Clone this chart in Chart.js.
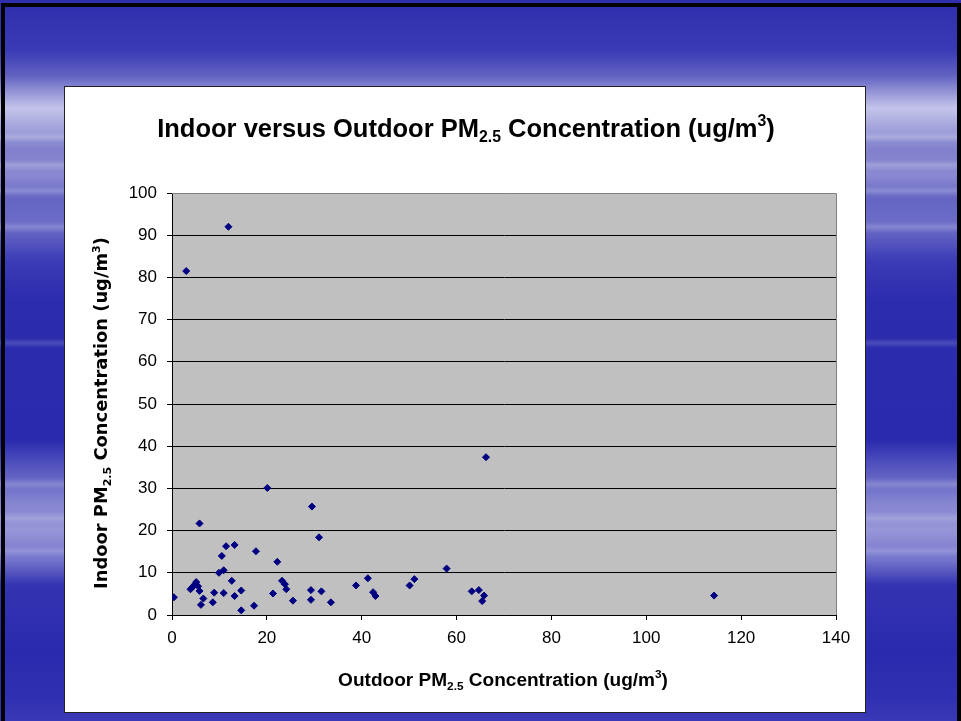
<!DOCTYPE html>
<html>
<head>
<meta charset="utf-8">
<script src="https://cdn.jsdelivr.net/npm/chart.js@4.4.1/dist/chart.umd.min.js"></script>
<style>
  html, body {
    margin: 0;
    padding: 0;
    width: 961px;
    height: 721px;
    overflow: hidden;
    background: #ffffff;
  }
  #slide {
    position: absolute;
    left: 0;
    top: 0;
    width: 961px;
    height: 721px;
    background:
      linear-gradient(to bottom,
        rgba(255,255,255,0) 132px, rgba(255,255,255,0.22) 137px, rgba(255,255,255,0) 142px,
        rgba(255,255,255,0) 160px, rgba(255,255,255,0.2) 165px, rgba(255,255,255,0) 171px,
        rgba(255,255,255,0) 186px, rgba(255,255,255,0.18) 191px, rgba(255,255,255,0) 196px,
        rgba(255,255,255,0) 222px, rgba(255,255,255,0.18) 227px, rgba(255,255,255,0) 233px,
        rgba(255,255,255,0) 338px, rgba(255,255,255,0.15) 343px, rgba(255,255,255,0) 348px,
        rgba(255,255,255,0) 478px, rgba(255,255,255,0.18) 484px, rgba(255,255,255,0) 490px,
        rgba(255,255,255,0) 512px, rgba(255,255,255,0.16) 518px, rgba(255,255,255,0) 524px,
        rgba(255,255,255,0) 546px, rgba(255,255,255,0.16) 551px, rgba(255,255,255,0) 557px),
      linear-gradient(to bottom,
      #2f2fae 0px, #3a3ab5 50px, #6060c2 75px, #9494d6 92px, #c4c4ea 108px,
      #a8a8de 125px, #8080cc 150px, #8a8ad2 175px, #6464c4 200px, #6e6ec8 225px,
      #3c3cb6 260px, #2c2cae 300px, #2a2aae 440px, #5252be 465px, #8282d0 500px,
      #9696d8 530px, #7474cc 560px, #3434b2 585px, #2a2aae 650px, #3030b2 700px,
      #3a3ab8 721px);
  }
  #frame {
    position: absolute;
    left: 1px;
    top: 3px;
    width: 952px;
    height: 730px;
    border-left: 4px solid #000;
    border-top: 4px solid #000;
    border-right: 4px solid #000;
  }
  #box {
    position: absolute;
    left: 64px;
    top: 86px;
    width: 802px;
    height: 627px;
    box-sizing: border-box;
    border: 1px solid #222;
    background: #ffffff;
  }
  #chart {
    position: absolute;
    left: 0;
    top: 0;
  }
</style>
</head>
<body>
<div id="slide"></div>
<div id="frame"></div>
<div id="box"></div>
<canvas id="chart" width="961" height="721"></canvas>
<script>
// outdoor (x) and indoor (y) PM2.5, ug/m3
const outdoorPM = [
  0.4, 3.0, 11.9, 3.9, 4.3, 4.7, 5.1, 5.5, 5.8, 5.8,
  6.1, 6.6, 8.6, 8.9, 9.9, 10.5, 10.9, 10.9, 11.4, 12.6,
  13.2, 13.2, 14.6, 14.6, 17.3, 17.7, 20.1, 21.3, 22.2, 23.2,
  23.8, 24.1, 25.5, 29.3, 29.3, 29.5, 31.0, 31.5, 33.5, 38.8,
  41.3, 42.4, 42.9, 50.1, 51.1, 57.9, 63.2, 64.7, 65.8, 65.4,
  66.2, 114.3
];
const indoorPM = [
  4.2, 81.5, 92.0, 6.1, 6.6, 7.1, 7.8, 6.8, 5.7, 21.7,
  2.4, 3.9, 3.0, 5.3, 10.0, 14.0, 10.6, 5.2, 16.3, 8.1,
  4.5, 16.6, 5.8, 1.1, 2.2, 15.1, 30.1, 5.1, 12.6, 8.1,
  7.3, 6.1, 3.4, 5.9, 3.6, 25.7, 18.4, 5.6, 3.0, 7.0,
  8.7, 5.4, 4.5, 7.0, 8.5, 11.0, 5.6, 5.9, 4.6, 3.3,
  37.4, 4.6
];

const xRange = [0, 140];
const xStep = 20;
const yRange = [0, 100];
const yStep = 10;

const titleParts = [
  { text: "Indoor versus Outdoor PM" },
  { text: "2.5", sub: true },
  { text: " Concentration (ug/m" },
  { text: "3", sup: true },
  { text: ")" },
];
const xTitleParts = [
  { text: "Outdoor PM" },
  { text: "2.5", sub: true },
  { text: " Concentration (ug/m" },
  { text: "3", sup: true },
  { text: ")" },
];
const yTitleParts = [
  { text: "Indoor PM" },
  { text: "2.5", sub: true },
  { text: " Concentration (ug/m" },
  { text: "3", sup: true },
  { text: ")" },
];

const FONT = '"Liberation Sans", Arial, sans-serif';
const WIDE_FONT = '"DejaVu Sans", Verdana, sans-serif';

function partSize(p, size) {
  return p.sub || p.sup ? size * 0.62 : size;
}

function richWidth(ctx, parts, size, family) {
  let w = 0;
  parts.forEach((p) => {
    ctx.font = `bold ${partSize(p, size)}px ${family}`;
    w += ctx.measureText(p.text).width;
  });
  return w;
}

// draws mixed text (sub/superscripts), scaled to fit a given width
function drawRich(ctx, parts, targetWidth, cx, cy, angle, family) {
  const size = (20 * targetWidth) / richWidth(ctx, parts, 20, family);
  const total = richWidth(ctx, parts, size, family);
  ctx.save();
  ctx.translate(cx, cy);
  ctx.rotate(angle);
  ctx.fillStyle = "#000";
  ctx.textAlign = "left";
  ctx.textBaseline = "alphabetic";
  let x = -total / 2;
  const baseY = size * 0.36;
  parts.forEach((p) => {
    ctx.font = `bold ${partSize(p, size)}px ${family}`;
    const dy = p.sub ? size * 0.2 : p.sup ? -size * 0.42 : 0;
    ctx.fillText(p.text, x, baseY + dy);
    x += ctx.measureText(p.text).width;
  });
  ctx.restore();
}

const plotDecor = {
  id: "plotDecor",
  beforeDraw(chart) {
    const { ctx, chartArea: a } = chart;
    ctx.save();
    ctx.fillStyle = "#c0c0c0";
    ctx.fillRect(a.left, a.top, a.right - a.left, a.bottom - a.top);
    ctx.restore();
  },
  afterDraw(chart) {
    const { ctx, chartArea: a } = chart;
    ctx.save();
    ctx.strokeStyle = "#808080";
    ctx.lineWidth = 1;
    ctx.beginPath();
    ctx.moveTo(a.left, a.top + 0.5);
    ctx.lineTo(a.right + 0.5, a.top + 0.5);
    ctx.lineTo(a.right + 0.5, a.bottom);
    ctx.stroke();
    ctx.restore();

    drawRich(ctx, titleParts, 618, 466, 128, 0, FONT);
    drawRich(ctx, xTitleParts, 330, 503, 679, 0, FONT);
    drawRich(ctx, yTitleParts, 352, 101, 413, -Math.PI / 2, WIDE_FONT);
  },
};

const points = outdoorPM.map((x, i) => ({ x: x, y: indoorPM[i] }));

new Chart(document.getElementById("chart"), {
  type: "scatter",
  data: {
    datasets: [
      {
        data: points,
        pointStyle: "rectRot",
        pointRadius: 3.5,
        pointBorderWidth: 1,
        backgroundColor: "#000080",
        borderColor: "#000080",
      },
    ],
  },
  options: {
    responsive: false,
    animation: false,
    layout: {
      padding: { left: 112, top: 193, right: 125, bottom: 56 },
    },
    plugins: {
      legend: { display: false },
      tooltip: { enabled: false },
    },
    scales: {
      x: {
        type: "linear",
        min: xRange[0],
        max: xRange[1],
        afterFit(scale) {
          scale.height = 50;
        },
        ticks: {
          stepSize: xStep,
          color: "#000",
          padding: 8,
          maxRotation: 0,
          font: { family: FONT, size: 17 },
        },
        grid: {
          drawOnChartArea: false,
          drawTicks: true,
          tickLength: 5,
          tickColor: "#000",
        },
        border: { color: "#000", width: 1 },
      },
      y: {
        type: "linear",
        min: yRange[0],
        max: yRange[1],
        afterFit(scale) {
          scale.width = 60;
        },
        ticks: {
          stepSize: yStep,
          color: "#000",
          padding: 10,
          font: { family: FONT, size: 17 },
        },
        grid: {
          color: (c) => (c.tick && c.tick.value === yRange[1] ? "#808080" : "#000"),
          tickLength: 5,
          tickColor: "#000",
        },
        border: { color: "#000", width: 1 },
      },
    },
  },
  plugins: [plotDecor],
});
</script>
</body>
</html>
